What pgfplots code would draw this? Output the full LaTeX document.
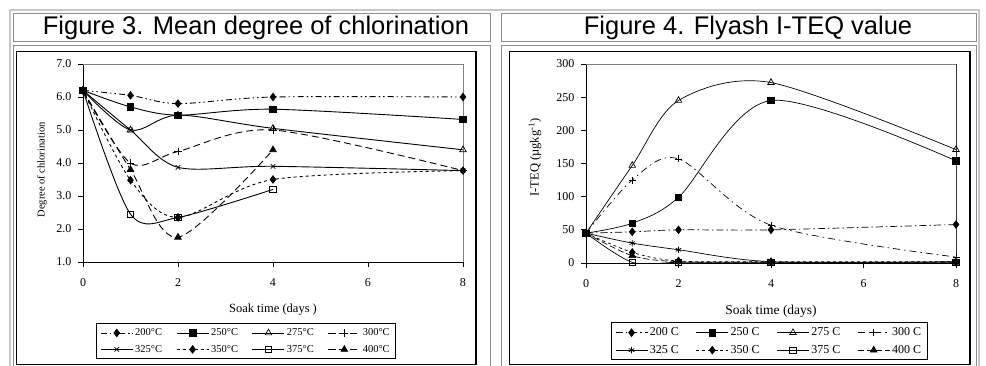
\documentclass[border=0pt]{standalone}
\usepackage{fontspec}
\setmainfont{Liberation Serif}
\newfontfamily\arial{Liberation Sans}
\usepackage{pgfplots}
\pgfplotsset{compat=1.18}
\begin{document}
\begin{tikzpicture}
\path[use as bounding box] (0pt,0pt) rectangle (986pt,-366pt);
% table frame
\draw[line width=1.5pt, color=black!22] (10pt,-10pt) rectangle (979pt,-400pt);
\draw[line width=1pt, color=black!45] (13.5pt,-13.5pt) rectangle (490pt,-42pt);
\draw[line width=1pt, color=black!45] (13.5pt,-45.5pt) rectangle (490pt,-400pt);
\draw[line width=1pt, color=black!45] (501pt,-13.5pt) rectangle (976pt,-42pt);
\draw[line width=1pt, color=black!45] (501pt,-45.5pt) rectangle (976pt,-400pt);
% chart frames
\draw[line width=1.2pt, black] (16.5pt,-51.5pt) rectangle (476pt,-364.5pt);
\draw[line width=1.2pt, black] (509.5pt,-51.5pt) rectangle (970pt,-364.5pt);
% titles
\node[anchor=base, font=\arial\fontsize{25.5}{30}\selectfont, inner sep=0pt] at (256pt,-34.5pt) {Figure 3. Mean degree of chlorination};
\node[anchor=base, font=\arial\fontsize{25.5}{30}\selectfont, inner sep=0pt] at (748pt,-34.5pt) {Figure 4. Flyash I-TEQ value};

\pgfplotsset{
  mychart/.style={
    scale only axis, anchor=south west,
    axis lines=left, axis line style={-, line width=1pt, black},
    xmin=0, xmax=8, xtick={0,2,4,6,8},
    tick align=outside, major tick length=5pt,
    tick style={black, line width=0.8pt},
    /pgf/number format/assume math mode=true,
    clip mode=individual,
    legend columns=4, legend cell align=left,
    every axis plot/.append style={black, line width=0.9pt, smooth, tension=0.5, mark options={solid, line width=0.7pt}},
  },
}

% ---------- Figure 3 ----------
\begin{axis}[mychart,
  at={(83pt,-262pt)}, width=380pt, height=198pt,
  ymin=1, ymax=7, ytick={1,2,...,7},
  y tick label style={/pgf/number format/fixed, /pgf/number format/fixed zerofill, /pgf/number format/precision=1, xshift=-3pt},
  ticklabel style={font=\fontsize{12}{13}\selectfont},
  xticklabel style={yshift=-8pt},
  xlabel={Soak time (days )},
  xlabel style={at={(axis description cs:0.5,-0.24)}, anchor=center, font=\fontsize{12.5}{14}\selectfont},
  ylabel={Degree of chlorination},
  ylabel style={at={(axis description cs:-0.108,0.465)}, anchor=center, font=\fontsize{10.5}{12}\selectfont},
  legend style={at={(axis description cs:0.429,-0.40)}, anchor=center, draw=black, line width=1pt,
    font=\fontsize{10.5}{12}\selectfont, inner xsep=4pt, inner ysep=3pt, row sep=4pt,
    /tikz/every even column/.append style={column sep=12pt}},
  legend image code/.code={\draw[mark repeat=2,mark phase=2,#1] plot coordinates {(0pt,0pt) (16pt,0pt) (32pt,0pt)};},
]
\draw[line width=0.8pt, black!50] (rel axis cs:0,1) -- (rel axis cs:1,1) -- (rel axis cs:1,0);
\addplot[dash pattern=on 6pt off 3pt on 1.5pt off 3pt on 1.5pt off 3pt, mark=diamond*, mark size=3.8pt]
  coordinates {(0,6.2)(1,6.05)(2,5.8)(4,6.0)(8,6.0)};
\addlegendentry{200°C}
\addplot[mark=square*, mark size=3.3pt]
  coordinates {(0,6.2)(1,5.7)(2,5.45)(4,5.63)(8,5.32)};
\addlegendentry{250°C}
\addplot[mark=triangle, mark size=3.8pt]
  coordinates {(0,6.2)(1,5.0)(2,5.45)(4,5.05)(8,4.4)};
\addlegendentry{275°C}
\addplot[dash pattern=on 7pt off 4pt, mark=+, mark size=3.8pt]
  coordinates {(0,6.2)(1,4.0)(2,4.35)(4,5.0)(8,3.77)};
\addlegendentry{300°C}
\addplot[mark=x, mark size=3.2pt]
  coordinates {(0,6.2)(1,5.0)(2,3.87)(4,3.9)(8,3.77)};
\addlegendentry{325°C}
\addplot[dash pattern=on 3pt off 3pt, mark=diamond*, mark size=3.8pt]
  coordinates {(0,6.2)(1,3.48)(2,2.35)(4,3.5)(8,3.77)};
\addlegendentry{350°C}
\addplot[mark=square, mark size=3.2pt]
  coordinates {(0,6.2)(1,2.45)(2,2.35)(4,3.2)};
\addlegendentry{375°C}
\addplot[dash pattern=on 7pt off 4pt, mark=triangle*, mark size=3.8pt]
  coordinates {(0,6.2)(1,3.8)(2,1.75)(4,4.4)};
\addlegendentry{400°C}
\end{axis}

% ---------- Figure 4 ----------
\begin{axis}[mychart,
  at={(586pt,-263pt)}, width=370pt, height=199pt,
  ymin=0, ymax=300, ytick={0,50,...,300},
  ticklabel style={font=\fontsize{12}{13}\selectfont},
  xticklabel style={yshift=-8pt},
  yticklabel style={xshift=-3pt},
  xlabel={Soak time (days)},
  xlabel style={at={(axis description cs:0.5,-0.245)}, anchor=center, font=\fontsize{13.5}{15}\selectfont},
  ylabel={I-TEQ (µgkg\textsuperscript{-1})},
  ylabel style={at={(axis description cs:-0.138,0.53)}, anchor=center, font=\fontsize{12.5}{14}\selectfont},
  legend style={at={(axis description cs:0.495,-0.394)}, anchor=center, draw=black, line width=1pt,
    font=\fontsize{12}{13.5}\selectfont, inner xsep=4pt, inner ysep=3pt, row sep=4pt,
    /tikz/every even column/.append style={column sep=15pt}},
  legend image code/.code={\draw[mark repeat=2,mark phase=2,#1] plot coordinates {(0pt,0pt) (16pt,0pt) (32pt,0pt)};},
]
\draw[line width=0.8pt, black!50] (rel axis cs:0,1) -- (rel axis cs:1,1);
\draw[line width=0.8pt, black!80] (rel axis cs:1,1) -- (rel axis cs:1,0);
\addplot[line width=0.7pt, dash pattern=on 7pt off 3pt on 1.5pt off 3pt, mark=diamond*, mark size=3.8pt]
  coordinates {(0,45)(1,47)(2,50)(4,50)(8,58)};
\addlegendentry{200 C}
\addplot[line width=0.7pt, mark=square*, mark size=3.3pt]
  coordinates {(0,45)(1,60)(2,99)(4,245)(8,154)};
\addlegendentry{250 C}
\addplot[line width=0.7pt, mark=triangle, mark size=3.8pt]
  coordinates {(0,45)(1,147)(2,245)(4,272)(8,171)};
\addlegendentry{275 C}
\addplot[line width=0.7pt, dash pattern=on 7pt off 4pt on 1.5pt off 4pt, mark=+, mark size=3.5pt]
  coordinates {(0,45)(1,125)(2,157)(4,57)(8,9)};
\addlegendentry{300 C}
\addplot[line width=0.7pt, mark=asterisk, mark size=3.2pt]
  coordinates {(0,45)(1,30)(2,20)(4,2)(8,2)};
\addlegendentry{325 C}
\addplot[line width=0.7pt, dash pattern=on 3pt off 3pt, mark=diamond*, mark size=3.8pt]
  coordinates {(0,45)(1,16)(2,3)(4,2)(8,2)};
\addlegendentry{350 C}
\addplot[line width=0.7pt, mark=square, mark size=3.2pt]
  coordinates {(0,45)(1,1)(2,1)(4,1)(8,1)};
\addlegendentry{375 C}
\addplot[line width=0.7pt, dash pattern=on 6pt off 3pt, mark=triangle*, mark size=3.8pt]
  coordinates {(0,45)(1,11)(2,2)(4,1)(8,1)};
\addlegendentry{400 C}
\end{axis}
\end{tikzpicture}
\end{document}
